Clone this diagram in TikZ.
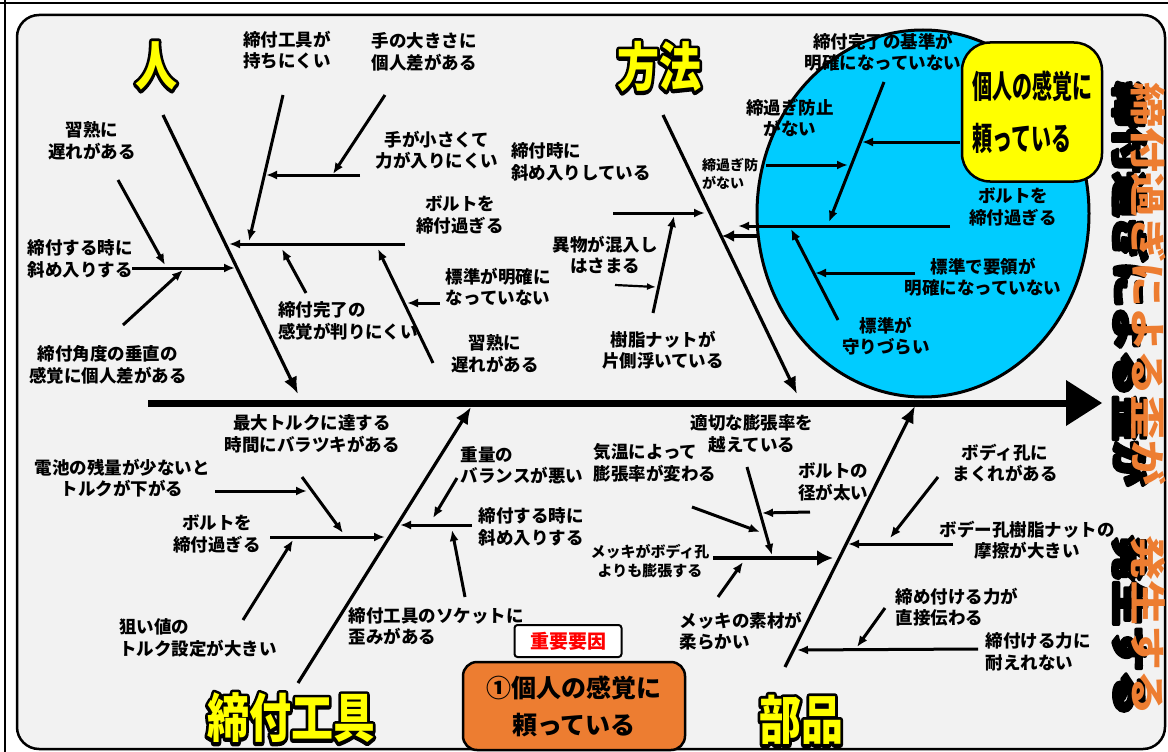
\documentclass[tikz,border=0pt]{standalone}
\usepackage{fontspec}
\usepackage{graphicx}
\newfontfamily\jp{Noto Sans CJK JP}
\usetikzlibrary{arrows.meta,shapes.geometric}
\definecolor{bgc}{HTML}{F2F2F2}
\definecolor{cy}{HTML}{00CCFF}
\definecolor{yel}{HTML}{FFFF00}
\definecolor{org}{HTML}{ED7D31}
\newcommand\strk[2]{\special{pdf:literal direct 1 j 1 J #1 w 2 Tr}#2\special{pdf:literal direct 0 Tr}}
\tikzset{
 lbl/.style={font=\jp\bfseries\fontsize{17.5}{21.5}\selectfont, align=center, inner sep=0pt},
 lbll/.style={lbl, align=left},
 lbls/.style={lbl, font=\jp\bfseries\fontsize{15}{19}\selectfont},
 ln/.style={line width=3pt, -{Latex[length=11pt,width=9pt]}},
 bigbone/.style={line width=3.2pt, -{Latex[length=17pt,width=14pt]}},
 ylw/.style={font=\jp\bfseries\fontsize{42}{46}\selectfont, inner sep=0pt},
}
\newcommand\ytext[4]{%
  \node[ylw,text=black] at (#2,#3) {\strk{5.5}{\scalebox{1}[1.25]{#4}}};
  \node[ylw,text=yel] (#1) at (#2,#3) {\scalebox{1}[1.25]{#4}};
}
\begin{document}
\begin{tikzpicture}[x=1pt,y=-1pt]
\useasboundingbox (0,0) rectangle (1168,752);
\fill[white] (0,0) rectangle (1168,752);
\draw[line width=2pt] (0,3) -- (1168,3);
\draw[line width=2pt] (5,0) -- (5,752);
\draw[line width=2.5pt, fill=bgc, rounded corners=22pt] (17,15) rectangle (1165,749);

% spine
\coordinate (sp1) at (148,403);
\coordinate (sp2) at (1068,403);
\draw[line width=7pt] (sp1) -- (sp2);
\fill (1066,380) -- (1102,403) -- (1066,426) -- cycle;

% big bones
\foreach \n/\xa/\ya/\xb/\yb in {bA/163/115/298/394, bB/663/115/797/394, bC/298/683/471/407, bD/785/667/915/406}{
  \coordinate (\n s) at (\xa,\ya); \coordinate (\n e) at (\xb,\yb);
  \draw[bigbone] (\n s) -- (\n e);
}

% small arrows
\foreach \n/\xa/\ya/\xb/\yb in {
 a1/283/95/249/241, a2/360/175/266/175, a3/385/95/333/174, a4/405/244/229/244,
 a5/306/293/282/249, a6/433/363/378/249, a7/440/303/407/303, a8/132/268/235/268,
 a9/118/180/165/265, a10/123/325/183/270,
 a11/613/213/705/213, a12/653/313/674/216,
 a21/270/537/385/537, a22/215/491/307/491, a23/302/477/343/533, a24/243/620/293/540,
 a25/472/525/400/525, a26/457/478/433/518, a27/465/597/452/530,
 a29/747/467/772/555, a30/692/507/760/532, a31/810/512/762/513, a32/718/597/743/562,
 a33/938/477/890/538, a34/953/544/848/544, a35/885/608/857/647, a36/978/649/797/650}{
  \coordinate (\n s) at (\xa,\ya); \coordinate (\n e) at (\xb,\yb);
  \draw[ln] (\n s) -- (\n e);
}
\coordinate (a13s) at (615,285); \coordinate (a13e) at (656,287);
\draw[line width=2.2pt,-{Latex[length=9pt,width=7pt]}] (a13s) -- (a13e);
\coordinate (a28s) at (713,558); \coordinate (a28e) at (833,558);
\draw[line width=3.2pt,-{Latex[length=16pt,width=16pt]}] (a28s) -- (a28e);

% big labels
\ytext{hito}{156}{66}{人}
\ytext{hoho}{659}{67}{方法}
\ytext{kogu}{291}{718}{締付工具}
\ytext{buhin}{801}{720}{部品}

% labels person
\node[lbl] (n1) at (287,50) {締付工具が\\持ちにくい};
\node[lbl] (n2) at (424,52) {手の大きさに\\個人差がある};
\node[lbl] (n3) at (437,150) {手が小さくて\\力が入りにくい};
\node[lbl] (n4) at (460,215) {ボルトを\\締付過ぎる};
\node[lbl] (n5) at (92,141) {習熟に\\遅れがある};
\node[lbl] (n6) at (80,259) {締付する時に\\斜め入りする};
\node[lbl] (n7) at (108,365) {締付角度の垂直の\\感覚に個人差がある};
\node[lbll] (n8) at (348,321) {締付完了の\\感覚が判りにくい};
\node[lbl] (n9) at (498,287) {標準が明確に\\なっていない};
\node[lbl] (n10) at (495,354) {習熟に\\遅れがある};
% method
\node[lbll] (m1) at (581,162) {締付時に\\斜め入りしている};
\node[lbl] (m2) at (605,255) {異物が混入し\\はさまる};
\node[lbl] (m3) at (663,350) {樹脂ナットが\\片側浮いている};
\node[lbls, align=left, anchor=north west, font=\jp\bfseries\fontsize{14}{18}\selectfont] (m4) at (702,158) {締過ぎ防\\がない};
% tool
\node[lbl] (t1) at (312,434) {最大トルクに達する\\時間にバラツキがある};
\node[lbl] (t2) at (122,478) {電池の残量が少ないと\\トルクが下がる};
\node[lbl] (t3) at (217,534) {ボルトを\\締付過ぎる};
\node[lbll] (t4) at (198,638) {狙い値の\\トルク設定が大きい};
\node[lbll] (t5) at (522,465) {重量の\\バランスが悪い};
\node[lbl] (t6) at (531,527) {締付する時に\\斜め入りする};
\node[lbll] (t7) at (436,626) {締付工具のソケットに\\歪みがある};
% parts
\node[lbl] (p1) at (752,434) {適切な膨張率を\\越えている};
\node[lbll] (p2) at (655,463) {気温によって\\膨張率が変わる};
\node[lbll] (p3) at (833,482) {ボルトの\\径が太い};
\node[lbls] (p4) at (650,561) {メッキがボディ孔\\よりも膨張する};
\node[lbll] (p5) at (741,631) {メッキの素材が\\柔らかい};
\node[lbl] (p6) at (1005,463) {ボディ孔に\\まくれがある};
\node[lbl] (p7) at (1027,540) {ボデー孔樹脂ナットの\\摩擦が大きい};
\node[lbll] (p8) at (957,607) {締め付ける力が\\直接伝わる};
\node[lbll] (p9) at (1038,652) {締付ける力に\\耐えれない};

% circle
\node[draw, line width=3pt, fill=cy, ellipse, minimum width=332pt, minimum height=367pt, inner sep=0pt] (circ) at (923,213.5) {};
\foreach \n/\xa/\ya/\xb/\yb in {
 c16/884/82/829/222, c17/960/142/862/142, c18/766/165/848/165,
 c19/838/320/791/229, c20/915/273/815/273, c14/950/226/738/226}{
  \coordinate (\n s) at (\xa,\ya); \coordinate (\n e) at (\xb,\yb);
  \draw[ln] (\n s) -- (\n e);
}
\coordinate (c15s) at (758,236); \coordinate (c15e) at (722,236);
\draw[line width=4pt,-{Latex[length=12pt,width=12pt]}] (c15s) -- (c15e);
\node[lbl] (c1) at (883,52) {締付完了の基準が\\明確になっていない};
\node[lbl] (c2) at (790,118) {締過ぎ防止\\がない};
\node[lbl] (c3) at (1013,207) {ボルトを\\締付過ぎる};
\node[lbl] (c4) at (983,277) {標準で要領が\\明確になっていない};
\node[lbl] (c5) at (886,336) {標準が\\守りづらい};

% yellow box
\node[draw, line width=2.5pt, fill=yel, rounded corners=28pt, minimum width=140pt, minimum height=139pt, inner sep=0pt,
  align=left, font=\jp\bfseries\fontsize{20}{52}\selectfont] (ybox) at (1032,112)
  {\scalebox{1}[1.6]{個人の感覚に}\\\scalebox{1}[1.6]{頼っている}};

% key boxes
\node[draw, line width=2pt, fill=white, rounded corners=3pt, minimum width=107pt, minimum height=32pt, inner sep=0pt,
  text=red, font=\jp\bfseries\fontsize{19}{22}\selectfont] (imp) at (568,641) {重要要因};
\node[draw, line width=2.5pt, fill=org, rounded corners=14pt, minimum width=222pt, minimum height=88pt, inner sep=0pt,
  align=center, font=\jp\bfseries\fontsize{25}{37}\selectfont] (key) at (574,706) {①個人の感覚に\\頼っている};

% vertical title
\node[rotate=-90, inner sep=0pt, font=\jp\bfseries\fontsize{45}{45}\selectfont, text=black] (tshadow) at (1130,399)
   {\strk{4}{\scalebox{1}[0.8]{締付過ぎによる歪が\hspace{50pt}発生する}}};
\node[rotate=-90, inner sep=0pt, font=\jp\bfseries\fontsize{45}{45}\selectfont, text=org] (title) at (1148,399)
   {\scalebox{1}[0.8]{締付過ぎによる歪が\hspace{50pt}発生する}};
\end{tikzpicture}
\end{document}
